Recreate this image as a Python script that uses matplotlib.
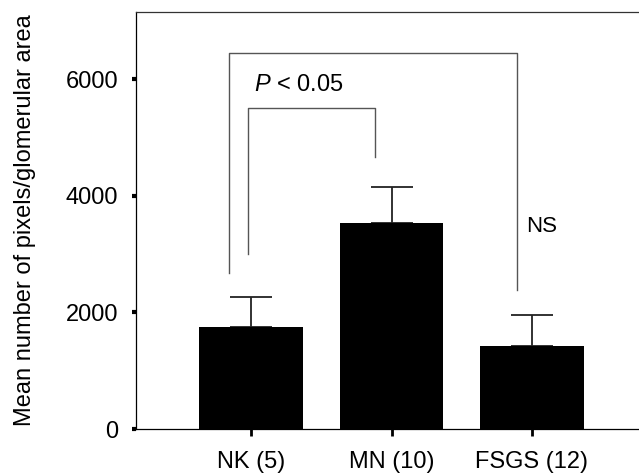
import matplotlib
matplotlib.use('Agg')
from matplotlib import pyplot as plt

# Data
groups = ['NK (5)', 'MN (10)', 'FSGS (12)']
means = [1755, 3530, 1425]
upper_err = [510, 625, 535]   # cap minus bar top

# significance brackets: (x_left, x_right, y_top, y_left_end, y_right_end)
outer_bracket = (-0.155, 1.89, 6440, 2680, 2385)
inner_bracket = (-0.025, 0.885, 5500, 3000, 4670)

plt.rcParams['font.family'] = ['Liberation Sans', 'DejaVu Sans']
plt.rcParams['mathtext.fontset'] = 'custom'
plt.rcParams['mathtext.it'] = 'Liberation Sans:italic'
plt.rcParams['mathtext.rm'] = 'Liberation Sans'

fig = plt.figure(figsize=(6.39, 4.76), dpi=100)
ax = fig.add_axes([136/639, 47/476, 1 - 136/639, 417/476])

x = list(range(len(groups)))
ax.bar(x, means, width=0.74, color='black', zorder=2)
ax.errorbar(x, means, yerr=[[0]*len(means), upper_err], fmt='none',
            ecolor='#222222', elinewidth=1.3, capsize=15, capthick=1.3, zorder=1)

# brackets
for xl, xr, top, yl, yr in (outer_bracket, inner_bracket):
    ax.plot([xl, xl, xr, xr], [yl, top, top, yr], color='#555555', lw=1.0)

ax.text(0.02, 5900, r'$\mathit{P}$ < 0.05', fontsize=17, va='center', ha='left')
ax.text(1.96, 3480, 'NS', fontsize=16, va='center', ha='left')

ax.set_xlim(-0.819, 2.762)
ax.set_ylim(0, 7150)
ax.set_xticks(x)
ax.set_xticklabels(groups, fontsize=17)
ax.set_yticks([0, 2000, 4000, 6000])
ax.set_yticklabels(['0', '2000', '4000', '6000'], fontsize=17)
ax.tick_params(axis='y', direction='out', length=3, width=3, pad=10)
ax.tick_params(axis='x', direction='out', length=5, width=2, pad=11)
ax.set_ylabel('Mean number of pixels/glomerular area', fontsize=17, labelpad=21)

ax.spines['right'].set_visible(False)
for s in ('left', 'top', 'bottom'):
    ax.spines[s].set_linewidth(0.9)
ax.spines['top'].set_color('#333333')

fig.savefig('out.png', dpi=100)
